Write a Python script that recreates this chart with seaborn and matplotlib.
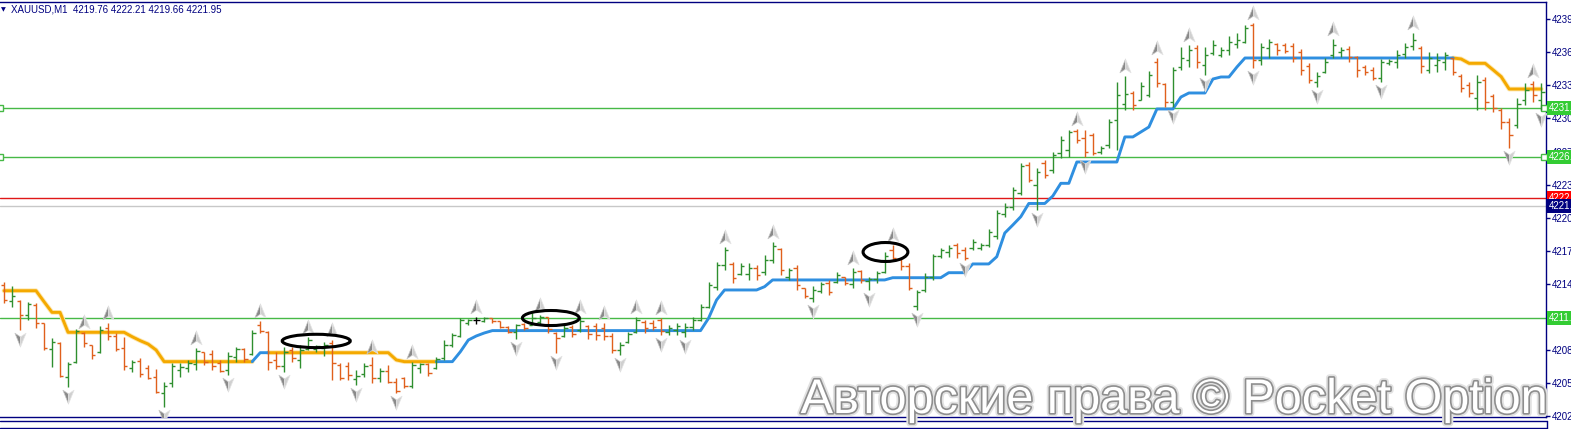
import matplotlib
matplotlib.use("Agg")
import numpy as np
import pandas as pd
import matplotlib.pyplot as plt
import matplotlib.transforms as mtransforms
import matplotlib.patheffects as pe
from matplotlib.path import Path
from matplotlib.patches import Ellipse
from matplotlib.lines import Line2D
import seaborn as sns

# --- chart data -------------------------------------------------------------
symbol = "XAUUSD,M1"
last_ohlc = [4219.76, 4222.21, 4219.66, 4221.95]

opens = [
    4214.54, 4213.04, 4213.04, 4211.72, 4212.66, 4210.98, 4208.54, 4209.10, 4205.91, 4207.32,
    4210.04, 4208.91, 4208.25, 4210.51, 4209.76, 4208.63, 4206.76, 4207.41, 4206.76, 4205.91,
    4204.41, 4205.35, 4206.57, 4206.76, 4207.13, 4208.25, 4208.07, 4207.23, 4206.57, 4207.79,
    4208.54, 4208.07, 4210.79, 4210.13, 4207.51, 4206.94, 4208.44, 4207.51, 4208.54, 4208.54,
    4208.63, 4209.10, 4207.04, 4206.94, 4205.72, 4206.19, 4207.04, 4205.82, 4206.48, 4205.44,
    4205.82, 4205.07, 4206.76, 4207.13, 4206.76, 4207.69, 4208.91, 4209.76, 4210.98, 4211.26,
    4211.16, 4211.44, 4211.16, 4210.60, 4210.13, 4210.88, 4210.79, 4211.07, 4211.54, 4210.04,
    4209.76, 4210.60, 4210.32, 4210.70, 4210.70, 4210.51, 4209.76, 4208.44, 4209.19, 4210.13,
    4211.07, 4210.98, 4211.26, 4210.13, 4210.32, 4210.13, 4210.60, 4211.26, 4212.47, 4214.35,
    4216.41, 4216.50, 4215.57, 4215.57, 4216.13, 4215.76, 4216.88, 4217.91, 4215.29, 4216.13,
    4214.26, 4213.32, 4213.98, 4214.73, 4214.82, 4215.29, 4214.63, 4215.85, 4214.91, 4215.10,
    4215.76, 4217.82, 4216.97, 4216.32, 4212.57, 4214.07, 4215.29, 4217.26, 4217.63, 4218.29,
    4217.82, 4218.01, 4218.01, 4218.29, 4219.13, 4221.19, 4221.85, 4223.16, 4225.79, 4223.91,
    4225.97, 4225.32, 4226.91, 4227.20, 4228.98, 4228.32, 4228.60, 4227.01, 4227.66, 4230.01,
    4231.51, 4232.54, 4231.88, 4232.35, 4235.45, 4233.38, 4231.70, 4234.98, 4235.63, 4236.76,
    4235.17, 4236.29, 4236.10, 4236.57, 4237.13, 4237.32, 4238.92, 4235.63, 4236.76, 4237.13,
    4237.04, 4236.94, 4236.38, 4235.07, 4233.57, 4234.51, 4236.10, 4236.38, 4236.66, 4235.91,
    4234.98, 4234.70, 4233.95, 4235.35, 4235.45, 4236.20, 4236.94, 4236.76, 4234.70, 4235.17,
    4235.45, 4235.82, 4234.13, 4233.29, 4232.07, 4233.76, 4232.26, 4230.95, 4229.82, 4229.54,
    4231.88, 4233.38, 4231.88,
]
highs = [
    4214.82, 4214.45, 4213.13, 4212.94, 4212.85, 4210.98, 4209.57, 4209.19, 4207.32, 4210.41,
    4210.13, 4208.91, 4210.70, 4210.98, 4210.04, 4209.66, 4207.51, 4207.69, 4207.04, 4206.66,
    4205.44, 4207.23, 4207.23, 4207.51, 4208.63, 4208.25, 4208.44, 4207.51, 4208.25, 4208.72,
    4208.63, 4210.32, 4211.16, 4210.22, 4208.25, 4208.72, 4208.72, 4208.91, 4209.66, 4208.91,
    4209.19, 4209.38, 4207.23, 4207.32, 4206.57, 4207.23, 4207.79, 4206.76, 4207.04, 4205.82,
    4205.91, 4207.32, 4207.23, 4207.23, 4207.79, 4209.38, 4210.04, 4211.44, 4211.35, 4211.54,
    4211.54, 4211.44, 4211.16, 4210.70, 4210.88, 4210.98, 4211.91, 4211.72, 4211.54, 4210.13,
    4210.79, 4210.79, 4211.54, 4210.79, 4210.98, 4210.98, 4210.04, 4209.19, 4210.13, 4211.54,
    4211.26, 4211.26, 4211.44, 4210.79, 4210.98, 4210.98, 4211.54, 4212.75, 4214.82, 4216.69,
    4218.10, 4216.69, 4216.60, 4216.60, 4216.41, 4217.35, 4218.57, 4218.01, 4216.13, 4216.41,
    4214.26, 4214.45, 4214.82, 4215.01, 4215.76, 4215.29, 4216.13, 4215.94, 4215.29, 4215.85,
    4217.63, 4218.29, 4217.07, 4216.60, 4214.07, 4215.66, 4217.44, 4218.01, 4218.29, 4218.48,
    4218.10, 4218.85, 4218.48, 4219.79, 4221.57, 4222.22, 4223.72, 4225.97, 4226.07, 4225.51,
    4226.26, 4227.01, 4228.51, 4229.07, 4229.16, 4229.07, 4228.79, 4227.57, 4230.10, 4233.57,
    4234.13, 4232.73, 4233.57, 4234.60, 4235.82, 4233.48, 4234.98, 4236.85, 4237.04, 4237.04,
    4236.85, 4237.51, 4236.85, 4237.88, 4238.17, 4238.92, 4239.10, 4237.23, 4237.60, 4237.23,
    4237.23, 4237.23, 4236.66, 4235.35, 4234.51, 4235.82, 4237.60, 4236.85, 4236.94, 4236.01,
    4235.17, 4234.98, 4235.73, 4235.73, 4236.57, 4237.23, 4238.17, 4236.94, 4236.38, 4236.29,
    4236.38, 4235.82, 4234.32, 4233.57, 4234.23, 4234.04, 4232.45, 4231.13, 4230.20, 4232.07,
    4233.48, 4233.66, 4233.48,
]
lows = [
    4212.85, 4212.47, 4210.32, 4211.26, 4210.51, 4208.44, 4206.85, 4205.91, 4204.97, 4207.23,
    4208.72, 4207.60, 4208.16, 4209.38, 4208.35, 4206.57, 4206.38, 4205.91, 4205.72, 4204.41,
    4203.09, 4204.97, 4205.91, 4206.38, 4206.57, 4207.04, 4206.57, 4206.38, 4206.10, 4207.32,
    4207.32, 4207.97, 4210.04, 4206.57, 4206.66, 4206.38, 4207.32, 4206.76, 4208.44, 4208.25,
    4207.88, 4205.63, 4205.63, 4205.63, 4205.16, 4205.91, 4205.35, 4205.44, 4205.35, 4204.41,
    4204.88, 4204.88, 4206.29, 4206.01, 4206.66, 4207.51, 4208.72, 4209.66, 4210.79, 4210.88,
    4211.07, 4210.98, 4210.51, 4210.04, 4209.47, 4210.32, 4210.79, 4210.79, 4210.04, 4208.16,
    4209.66, 4209.66, 4210.13, 4209.47, 4209.38, 4209.38, 4208.16, 4207.97, 4209.10, 4210.04,
    4210.04, 4210.32, 4209.85, 4209.85, 4209.85, 4209.66, 4210.32, 4211.16, 4212.38, 4214.07,
    4215.94, 4214.73, 4215.47, 4215.01, 4215.01, 4215.47, 4216.60, 4215.47, 4215.01, 4214.07,
    4213.32, 4212.94, 4213.79, 4213.60, 4214.73, 4214.54, 4214.26, 4214.73, 4214.07, 4214.73,
    4215.66, 4216.88, 4215.94, 4214.07, 4212.19, 4213.88, 4215.01, 4217.07, 4217.16, 4217.07,
    4216.88, 4217.82, 4217.82, 4218.10, 4218.85, 4220.91, 4221.57, 4222.97, 4224.19, 4221.57,
    4224.57, 4225.04, 4226.45, 4226.54, 4227.85, 4226.54, 4226.73, 4226.82, 4227.38, 4227.20,
    4230.95, 4230.95, 4231.88, 4232.16, 4233.10, 4231.23, 4231.23, 4234.70, 4234.98, 4234.88,
    4234.23, 4236.10, 4235.91, 4236.10, 4236.76, 4237.23, 4234.88, 4235.17, 4235.82, 4236.10,
    4236.29, 4235.45, 4234.23, 4233.48, 4233.10, 4234.41, 4235.82, 4235.91, 4235.45, 4234.04,
    4234.23, 4233.76, 4233.57, 4235.17, 4234.88, 4235.82, 4236.57, 4234.41, 4234.41, 4234.51,
    4234.70, 4234.23, 4232.63, 4232.16, 4230.95, 4230.95, 4230.76, 4229.16, 4227.38, 4229.26,
    4231.41, 4231.70, 4230.95,
]
closes = [
    4213.13, 4213.51, 4211.72, 4212.75, 4210.98, 4208.63, 4209.19, 4206.01, 4207.13, 4210.22,
    4209.10, 4207.97, 4210.32, 4209.76, 4208.54, 4206.94, 4207.32, 4206.19, 4205.82, 4204.50,
    4205.07, 4206.94, 4206.85, 4207.23, 4208.35, 4207.32, 4206.94, 4206.48, 4207.88, 4208.54,
    4207.60, 4210.04, 4210.22, 4207.32, 4206.94, 4208.25, 4207.69, 4208.44, 4209.38, 4208.82,
    4208.91, 4207.23, 4205.82, 4206.10, 4206.01, 4206.94, 4205.82, 4206.48, 4205.44, 4204.60,
    4205.07, 4207.04, 4207.13, 4206.29, 4207.60, 4208.91, 4209.85, 4211.26, 4211.26, 4211.26,
    4211.44, 4211.16, 4210.60, 4210.13, 4210.79, 4210.51, 4211.44, 4211.54, 4210.41, 4209.57,
    4210.51, 4209.94, 4211.16, 4209.94, 4209.85, 4209.76, 4208.44, 4208.91, 4209.94, 4211.26,
    4210.51, 4210.60, 4210.22, 4210.51, 4210.70, 4210.60, 4211.26, 4212.47, 4214.54, 4216.41,
    4217.82, 4215.19, 4216.32, 4216.13, 4215.47, 4216.88, 4218.19, 4215.94, 4215.94, 4214.54,
    4213.51, 4214.07, 4214.63, 4213.88, 4215.47, 4214.73, 4215.76, 4215.01, 4215.10, 4215.66,
    4217.26, 4217.07, 4216.32, 4214.26, 4213.88, 4215.29, 4217.26, 4217.82, 4218.01, 4217.54,
    4217.07, 4218.57, 4218.29, 4219.51, 4221.29, 4221.85, 4223.44, 4225.69, 4224.38, 4225.13,
    4224.85, 4226.73, 4228.13, 4228.88, 4228.13, 4227.01, 4226.91, 4227.38, 4229.82, 4232.35,
    4232.45, 4231.41, 4233.20, 4234.23, 4233.48, 4231.70, 4234.70, 4235.82, 4236.57, 4235.45,
    4236.10, 4237.04, 4236.57, 4237.32, 4237.51, 4238.64, 4235.63, 4236.85, 4237.32, 4236.57,
    4236.48, 4235.82, 4234.70, 4233.76, 4234.13, 4235.45, 4237.04, 4236.57, 4235.91, 4234.70,
    4234.51, 4233.95, 4235.45, 4235.54, 4236.10, 4236.85, 4237.51, 4235.07, 4235.82, 4235.63,
    4236.10, 4234.51, 4233.01, 4232.54, 4233.57, 4231.70, 4231.13, 4229.82, 4228.60, 4231.51,
    4232.82, 4232.35, 4232.63,
]

# trailing stop line, one value per bar
stop = [
    4214.00, 4214.00, 4214.00, 4214.00, 4214.00, 4212.97, 4211.97, 4211.97, 4210.10, 4210.10,
    4210.10, 4210.10, 4210.10, 4210.10, 4210.10, 4210.10, 4209.69, 4209.32, 4209.00, 4208.44,
    4207.35, 4207.35, 4207.35, 4207.35, 4207.35, 4207.35, 4207.35, 4207.35, 4207.35, 4207.35,
    4207.35, 4207.35, 4208.19, 4208.19, 4208.19, 4208.19, 4208.19, 4208.19, 4208.19, 4208.19,
    4208.19, 4208.19, 4208.19, 4208.19, 4208.19, 4208.19, 4208.19, 4208.19, 4208.19, 4207.51,
    4207.35, 4207.35, 4207.35, 4207.35, 4207.35, 4207.35, 4207.35, 4208.28, 4209.38, 4209.76,
    4210.04, 4210.26, 4210.26, 4210.26, 4210.26, 4210.26, 4210.26, 4210.26, 4210.26, 4210.26,
    4210.26, 4210.26, 4210.26, 4210.26, 4210.26, 4210.26, 4210.26, 4210.26, 4210.26, 4210.26,
    4210.26, 4210.26, 4210.26, 4210.26, 4210.26, 4210.26, 4210.26, 4210.26, 4211.42, 4213.13,
    4214.07, 4214.07, 4214.07, 4214.07, 4214.07, 4214.38, 4215.01, 4215.01, 4215.01, 4215.01,
    4215.01, 4215.01, 4215.01, 4215.01, 4215.01, 4215.01, 4215.01, 4215.01, 4215.01, 4215.01,
    4215.01, 4215.22, 4215.22, 4215.22, 4215.22, 4215.22, 4215.22, 4215.22, 4215.69, 4215.69,
    4215.69, 4216.51, 4216.51, 4216.51, 4217.19, 4219.41, 4220.16, 4220.94, 4222.18, 4222.18,
    4222.18, 4222.88, 4224.07, 4224.07, 4226.07, 4226.07, 4226.07, 4226.07, 4226.07, 4226.07,
    4228.42, 4228.42, 4228.88, 4229.35, 4231.04, 4231.04, 4231.04, 4232.16, 4232.54, 4232.54,
    4232.54, 4233.85, 4234.04, 4234.04, 4234.98, 4235.82, 4235.82, 4235.82, 4235.82, 4235.82,
    4235.82, 4235.82, 4235.82, 4235.82, 4235.82, 4235.82, 4235.82, 4235.82, 4235.82, 4235.82,
    4235.82, 4235.82, 4235.82, 4235.82, 4235.82, 4235.82, 4235.82, 4235.82, 4235.82, 4235.82,
    4235.82, 4235.82, 4235.73, 4235.32, 4235.32, 4235.32, 4234.70, 4234.07, 4232.91, 4232.91,
    4232.91, 4232.91, 4232.91,
]
up_runs = [(31, 33), (54, 181)]            # bars where the stop is blue
down_runs = [(0, 31), (33, 54), (181, 192)]  # bars where the stop is orange

fractal_up = [10, 13, 24, 32, 38, 41, 46, 51, 59, 67, 72, 75, 79, 82, 90, 96,
              106, 111, 134, 140, 144, 148, 156, 166, 176, 191]
fractal_down = [2, 8, 20, 28, 35, 44, 49, 64, 69, 77, 82, 85, 101, 108, 114,
                120, 129, 135, 146, 150, 156, 164, 172, 188, 192]

green_levels = [4231.13, 4226.53, 4211.45]
red_level = 4222.69
bid_level = 4221.95
price_ticks = [4202.25, 4205.35, 4208.45, 4211.55, 4214.65, 4217.75, 4220.85,
               4223.95, 4227.05, 4230.15, 4233.25, 4236.35, 4239.45]

# hand drawn ellipses: centre bar, centre price, width (bars), height (price)
ellipses = [(39.0, 4209.29, 8.5, 1.25), (68.3, 4211.44, 7.1, 1.41), (110.1, 4217.63, 5.6, 1.78)]

# --- styling ----------------------------------------------------------------
NAVY = "#000080"
BULL = "#2f8f2f"
BEAR = "#e0601c"
STOP_DN = "#f4a900"
STOP_UP = "#2f8fe0"
LEVEL_GREEN = "#46b946"

sns.set_style("white")
plt.rcParams["font.family"] = ["Liberation Sans", "DejaVu Sans"]

df = pd.DataFrame({"bar": np.arange(len(opens)), "open": opens, "high": highs,
                   "low": lows, "close": closes, "stop": stop})
df["color"] = np.where(df["close"] > df["open"], BULL,
                       np.where(df["close"] < df["open"], BEAR, "black"))

fig = plt.figure(figsize=(15.71, 4.29), dpi=100)
fig.patch.set_facecolor("white")
ax = fig.add_axes([0, 12 / 429, 1546 / 1571, 415 / 429])
ax.set_facecolor("white")

# horizontal levels
for lvl in green_levels:
    ax.axhline(lvl, color=LEVEL_GREEN, lw=1.0, zorder=1)
ax.axhline(bid_level, color="#c8c8c8", lw=1.0, zorder=1)
ax.axhline(red_level, color="#e01818", lw=1.0, zorder=1)
for lvl in green_levels[:2]:
    ax.plot([192.3, -0.45], [lvl, lvl], ls="none", marker="s", ms=4.5,
            mfc="white", mec=LEVEL_GREEN, mew=1.0, zorder=3, clip_on=False)

# stop line
for a, b in down_runs:
    seg = df.iloc[a:b + 1]
    sns.lineplot(data=seg, x="bar", y="stop", color=STOP_DN, lw=2.1, ax=ax,
                 legend=False, zorder=2,
                 path_effects=[pe.Stroke(linewidth=3.4, foreground="#fde7b0"), pe.Normal()])
for a, b in up_runs:
    seg = df.iloc[a:b + 1]
    sns.lineplot(data=seg, x="bar", y="stop", color=STOP_UP, lw=2.1, ax=ax,
                 legend=False, zorder=2)

# OHLC bars
ax.vlines(df["bar"], df["low"], df["high"], colors=df["color"], lw=1.0, zorder=3)
ax.hlines(df["open"], df["bar"] - 0.42, df["bar"], colors=df["color"], lw=1.0, zorder=3)
ax.hlines(df["close"], df["bar"], df["bar"] + 0.42, colors=df["color"], lw=1.0, zorder=3)

# fractal arrows (two tone arrowheads)
left_half = Path([(0, 1), (0, -0.35), (-0.75, -0.85), (0, 1)],
                 [Path.MOVETO, Path.LINETO, Path.LINETO, Path.CLOSEPOLY])
right_half = Path([(0, 1), (0.75, -0.85), (0, -0.35), (0, 1)],
                  [Path.MOVETO, Path.LINETO, Path.LINETO, Path.CLOSEPOLY])
flip = lambda p: Path(p.vertices * np.array([1, -1]), p.codes)
up = df.loc[fractal_up]
dn = df.loc[fractal_down]
for x, y, halves in [(up["bar"], up["high"] + 0.9, (left_half, right_half)),
                     (dn["bar"], dn["low"] - 0.85, (flip(left_half), flip(right_half)))]:
    ax.scatter(x, y, marker=halves[0], s=115, c="#8a8a8a", edgecolors="#c8c8c8",
               linewidths=0.5, zorder=4)
    ax.scatter(x, y, marker=halves[1], s=115, c="#d0d0d0", edgecolors="#e4e4e4",
               linewidths=0.5, zorder=4)

for cx, cy, w, h in ellipses:
    ax.add_patch(Ellipse((cx, cy), w, h, fill=False, ec="black", lw=2.2, zorder=5))

ax.set_xlim(-0.5, 192.6)
ax.set_ylim(4202.16, 4241.07)
ax.set_xlabel("")
ax.set_ylabel("")
ax.set_xticks([])
ax.yaxis.tick_right()
ax.set_yticks(price_ticks)
# the 4211.55 label sits under the green level box, as in the terminal
ax.set_yticklabels(["" if v == 4211.55 else f"{v:.2f}" for v in price_ticks])
ax.tick_params(axis="y", direction="out", length=3, width=1, color=NAVY,
               labelcolor=NAVY, labelsize=7, pad=1.5)
for side in ["top", "right", "bottom"]:
    ax.spines[side].set_color(NAVY)
    ax.spines[side].set_linewidth(1.0)
ax.spines["left"].set_visible(False)

# price labels on the axis
trans = mtransforms.blended_transform_factory(ax.transAxes, ax.transData)
for lvl, fc, tc in [(green_levels[0], "#33cc33", "white"), (green_levels[1], "#33cc33", "white"),
                    (green_levels[2], "#33cc33", "white"), (red_level, "#ff0000", "white"),
                    (bid_level, NAVY, "white")]:
    ax.text(1.002, lvl, f"{lvl:.2f}", transform=trans, ha="left", va="center",
            fontsize=7, color=tc, zorder=10, clip_on=False,
            bbox=dict(boxstyle="square,pad=0.22", fc=fc, ec="none"))

# header
fig.text(1 / 1571, 1 - 10 / 429, "▼", fontsize=4.5, color=NAVY, va="center", family="DejaVu Sans")
fig.text(11 / 1571, 1 - 10 / 429,
         f"{symbol}  " + " ".join(f"{v:.2f}" for v in last_ohlc),
         fontsize=7, color=NAVY, va="center")

# watermark
fig.text(1548 / 1571, 1 - 413 / 429, "Авторские права © Pocket Option",
         ha="right", va="baseline", fontsize=35, color="white",
         path_effects=[pe.Stroke(linewidth=5, foreground="#e2e2e2"),
                       pe.Stroke(linewidth=2.4, foreground="#8e8e8e"), pe.Normal()],
         zorder=20)

# lower frame lines
for yy in [420.5, 427.5]:
    fig.add_artist(Line2D([0, 1546.5 / 1571], [1 - yy / 429] * 2, color=NAVY, lw=1.0))
fig.add_artist(Line2D([1546.5 / 1571] * 2, [1 - 420.5 / 429, 1 - 427.5 / 429], color=NAVY, lw=1.0))

fig.savefig("out.png", dpi=100, facecolor="white")
